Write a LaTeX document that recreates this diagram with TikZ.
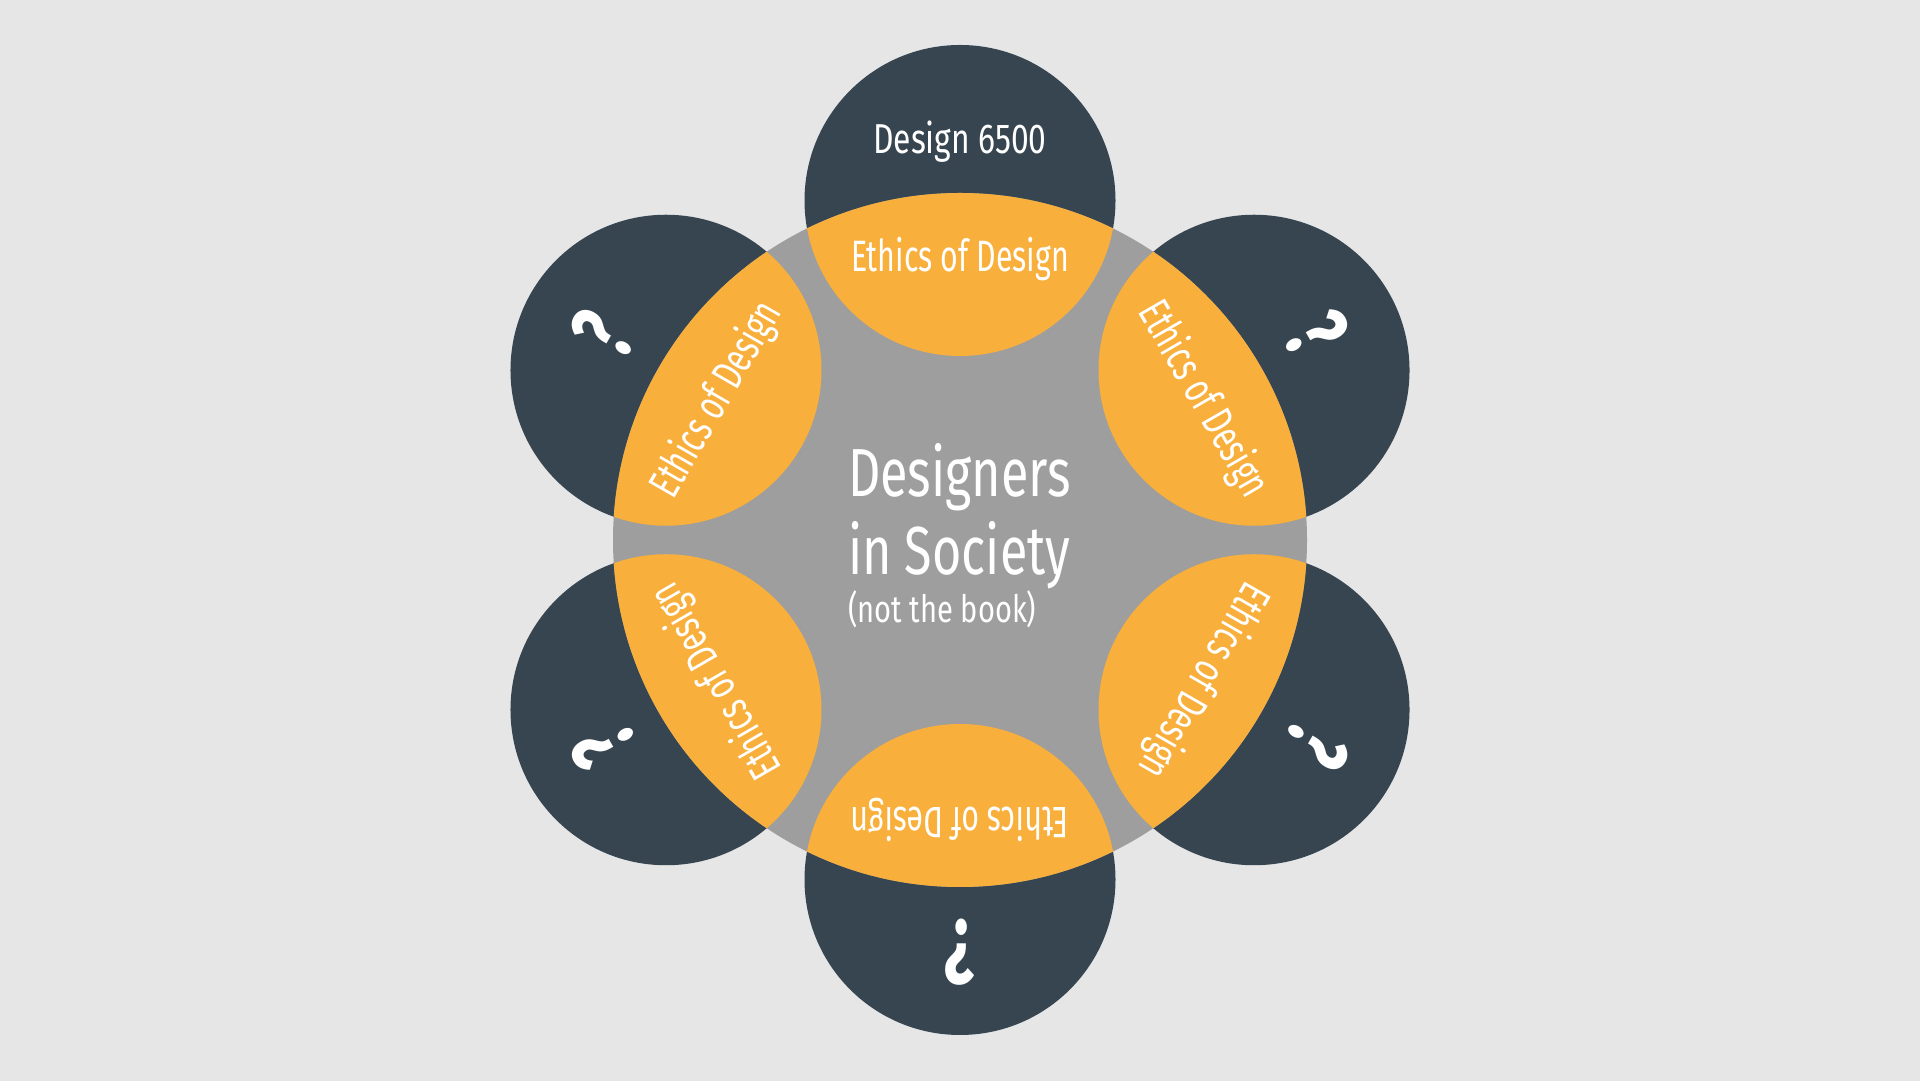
\documentclass[tikz,border=0pt]{standalone}
\usepackage{fontspec}
\setmainfont{Fira Sans}[FakeStretch=0.74]
\newfontfamily\ethicsfont{Fira Sans}[FakeStretch=0.69]
\newfontfamily\coursefont{Fira Sans}[FakeStretch=0.76]
\newfontfamily\subfont{Fira Sans}[FakeStretch=0.77]
\newfontfamily\qfont{Fira Sans}[FakeStretch=0.7]
\usetikzlibrary{calc}
\definecolor{bgc}{HTML}{E6E6E6}
\definecolor{slate}{HTML}{36454F}
\definecolor{amber}{HTML}{F9AF3B}
\definecolor{midgray}{HTML}{9E9E9E}
\begin{document}
\begin{tikzpicture}[x=0.02cm,y=0.02cm,
  lbl/.style={text=white, inner sep=0pt, outer sep=0pt},
  ethics/.style={lbl, font=\ethicsfont\fontsize{25}{30}\selectfont},
  qmark/.style={lbl, font=\qfont\fontsize{52}{60}\selectfont\bfseries},
  course/.style={lbl, font=\coursefont\fontsize{23.8}{28}\selectfont},
  bigtitle/.style={lbl, font=\fontsize{38.7}{46}\selectfont},
  subtitle/.style={lbl, font=\subfont\fontsize{21.5}{26}\selectfont}]
\fill[bgc] (0,0) rectangle (1920,1081);
\useasboundingbox (0,0) rectangle (1920,1081);
\coordinate (c) at (960,541);
\foreach \a in {90,30,-30,-90,-150,150}
  \fill[slate] ([shift={(\a:339.5)}]c) circle[radius=155.5];
\fill[midgray] (c) circle[radius=347];
\begin{scope}
  \clip (c) circle[radius=347];
  \foreach \a in {90,30,-30,-90,-150,150}
    \fill[amber] ([shift={(\a:339.5)}]c) circle[radius=155.5];
\end{scope}
\foreach \a/\n in {90/e1,30/e2,-30/e3,-90/e4,-150/e5,150/e6}
  \node[ethics, rotate=\a-90, anchor=base] (\n) at ([shift={(\a:268)}]c) {Ethics of Design};
\foreach \a/\n in {30/q1,-30/q2,-90/q3,-150/q4,150/q5}
  \node[qmark, rotate=\a-90] (\n) at ([shift={(\a:412)}]c) {?};
\node[course, anchor=base] (course) at ([shift={(90:386.7)}]c) {Design 6500};
\node[bigtitle, anchor=base west] (t1) at (848,584.3) {Designers};
\node[bigtitle, anchor=base west] (t2) at (848,506) {in Society};
\node[subtitle, anchor=base west] (t3) at (848,458) {(not the book)};
\end{tikzpicture}
\end{document}
